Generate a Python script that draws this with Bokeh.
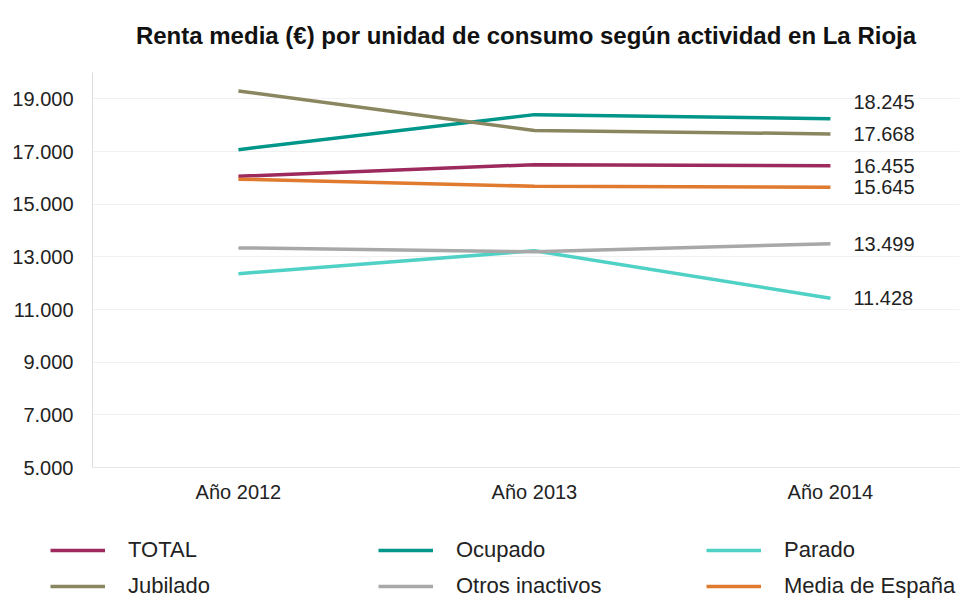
from bokeh.plotting import figure
from bokeh.layouts import column
from bokeh.models import (Range1d, FixedTicker, Legend, LegendItem, ColumnDataSource)
from bokeh.core.properties import value
from bokeh.embed import file_html
from bokeh.resources import INLINE

# ---- data ----
years = ["Año 2012", "Año 2013", "Año 2014"]
total = [16060, 16500, 16455]
ocupado = [17070, 18400, 18245]
parado = [12360, 13230, 11428]
jubilado = [19300, 17800, 17668]
otros_inactivos = [13340, 13190, 13499]
media_espana = [15950, 15680, 15645]
y_ticks = [5000, 7000, 9000, 11000, 13000, 15000, 17000, 19000]

series_names = ["TOTAL", "Ocupado", "Parado", "Jubilado", "Otros inactivos", "Media de España"]
series_values = [total, ocupado, parado, jubilado, otros_inactivos, media_espana]

# ---- styles ----
colors = ["#9c2a5c", "#00968a", "#4fd1c5", "#8a8660", "#a8a8a8", "#e07a2e"]
label_dy = [0, -17, 0, 0, 0, 0]   # pixel nudges of the end labels
FONT = "'Liberation Sans', Arial, Helvetica, sans-serif"


def es_fmt(v):
    return f"{v:,}".replace(",", ".")


def no_frame_align(fig):
    try:
        fig.frame_align = False
    except Exception:
        pass


x_idx = list(range(len(years)))

p = figure(width=960, height=510, output_backend="svg", toolbar_location=None,
           x_range=Range1d(-0.493, 2.436), y_range=Range1d(5000, 20000),
           min_border_left=92, min_border_right=1, min_border_top=69,
           min_border_bottom=43,
           title="Renta media (€) por unidad de consumo según actividad en La Rioja")
p.outline_line_color = None
p.background_fill_color = "white"
no_frame_align(p)

p.title.text_font = FONT
p.title.text_font_size = "24px"
p.title.text_font_style = "bold"
p.title.text_color = "#111111"
p.title.align = "center"
p.title.vertical_align = "top"
p.title.standoff = 43

# axes
p.yaxis.ticker = FixedTicker(ticks=y_ticks)
p.yaxis.major_label_overrides = {t: es_fmt(t) for t in y_ticks}
p.yaxis.major_label_text_font = FONT
p.yaxis.major_label_text_font_size = "20px"
p.yaxis.major_label_text_color = "#222222"
p.yaxis.major_label_standoff = 19
p.yaxis.major_tick_out = 0
p.yaxis.major_tick_in = 0
p.yaxis.minor_tick_out = 0
p.yaxis.minor_tick_in = 0
p.yaxis.axis_line_color = "#dddddd"

p.xaxis.ticker = FixedTicker(ticks=x_idx)
p.xaxis.major_label_overrides = {i: y for i, y in zip(x_idx, years)}
p.xaxis.major_label_text_font = FONT
p.xaxis.major_label_text_font_size = "20px"
p.xaxis.major_label_text_color = "#222222"
p.xaxis.major_label_standoff = 13
p.xaxis.major_tick_out = 0
p.xaxis.major_tick_in = 0
p.xaxis.minor_tick_out = 0
p.xaxis.minor_tick_in = 0
p.xaxis.axis_line_color = "#e6e6e6"

p.xgrid.grid_line_color = None
p.ygrid.grid_line_color = "#f1f1f1"

for name, vals, col in zip(series_names, series_values, colors):
    p.line(x=x_idx, y=vals, line_color=col, line_width=3.5)

# end labels
end_src = ColumnDataSource(dict(
    x=[x_idx[-1]] * len(series_values),
    y=[v[-1] for v in series_values],
    txt=[es_fmt(v[-1]) for v in series_values],
    dy=label_dy,
))
p.text(x="x", y="y", text="txt", y_offset="dy", x_offset=23, source=end_src,
       text_font=value(FONT), text_font_size="20px", text_color="#222222",
       text_baseline="middle", text_align="left")

# ---- legend strip (series lines lie outside its ranges; only the legend shows) ----
lg = figure(width=960, height=89, output_backend="svg", toolbar_location=None,
            x_range=Range1d(0, 1), y_range=Range1d(0, 1),
            x_axis_type=None, y_axis_type=None,
            min_border_left=0, min_border_right=0, min_border_top=0,
            min_border_bottom=0)
lg.outline_line_color = None
lg.xgrid.grid_line_color = None
lg.ygrid.grid_line_color = None
no_frame_align(lg)

items = []
for name, vals, col in zip(series_names, series_values, colors):
    r = lg.line(x=x_idx, y=vals, line_color=col, line_width=3.5)
    items.append(LegendItem(label=name, renderers=[r]))

legend = Legend(items=items, ncols=3, orientation="horizontal",
                location=(50, 0),
                glyph_width=55, glyph_height=22, label_height=22,
                label_width=240, label_standoff=23, spacing=10,
                padding=0, margin=0, border_line_color=None,
                background_fill_alpha=0,
                label_text_font=FONT, label_text_font_size="22px",
                label_text_color="#222222")
lg.add_layout(legend)

layout = column(p, lg, spacing=0)
open("out.html", "w").write(file_html(layout, INLINE))
